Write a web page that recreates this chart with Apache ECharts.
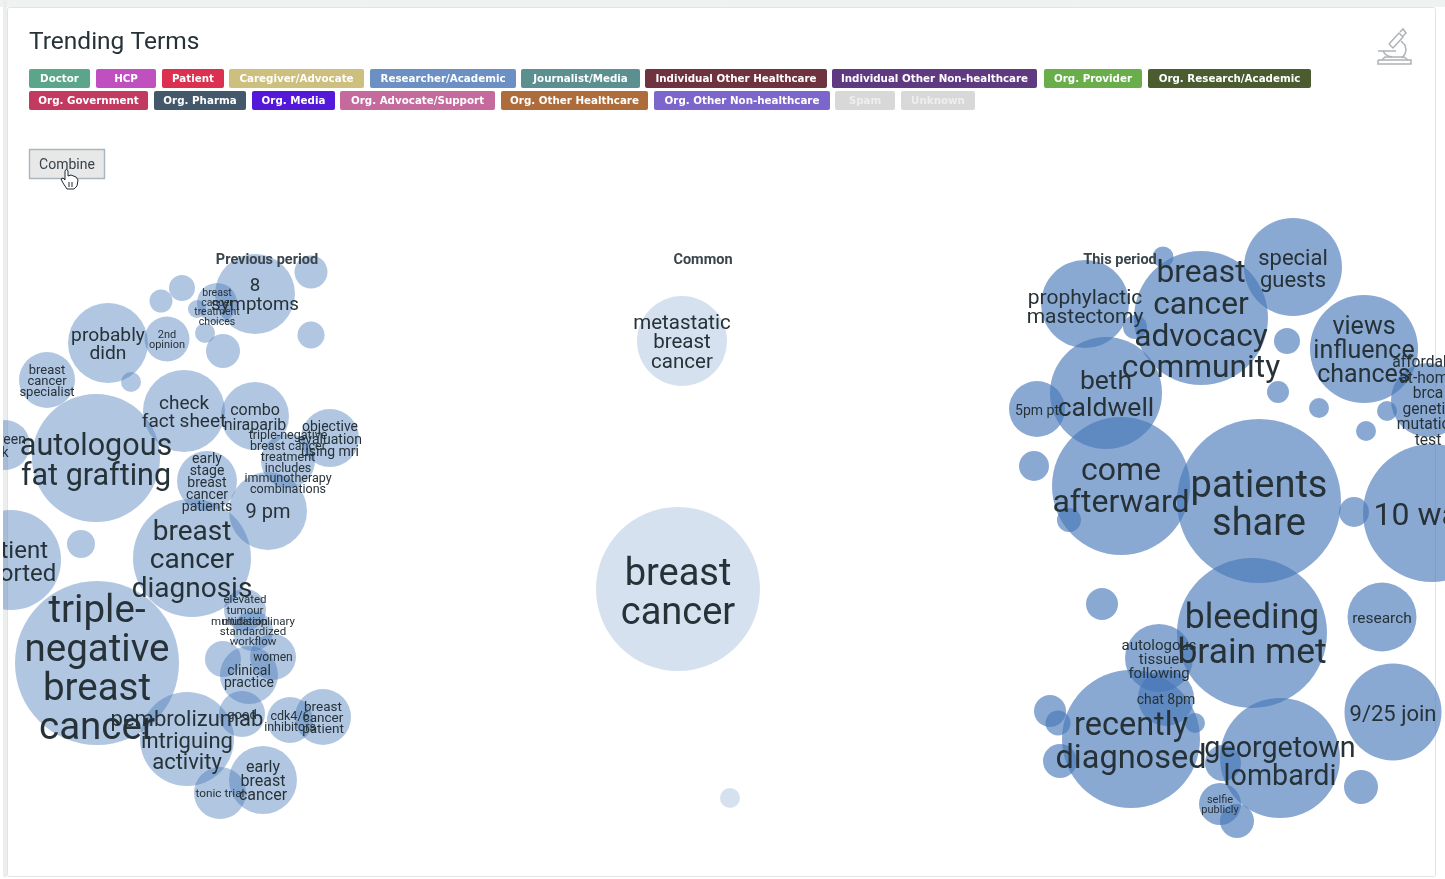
<!DOCTYPE html>
<html><head><meta charset="utf-8">
<style>html,body{margin:0;padding:0;background:#fff}#c{width:1445px;height:879px}</style>
<script src="https://cdn.jsdelivr.net/npm/echarts@6/dist/echarts.min.js"></script>
</head><body><div id="c"></div>
<script>
// ---------- data ----------
const audienceTags = ['Doctor','HCP','Patient','Caregiver/Advocate','Researcher/Academic','Journalist/Media','Individual Other Healthcare','Individual Other Non-healthcare','Org. Provider','Org. Research/Academic','Org. Government','Org. Pharma','Org. Media','Org. Advocate/Support','Org. Other Healthcare','Org. Other Non-healthcare','Spam','Unknown'];
const periodNames = ['Previous period','Common','This period'];

const prevTerms = ['8\nsymptoms','','','','breast\ncancer\ntreatment\nchoices','','','','','probably\ndidn','2nd\nopinion','','breast\ncancer\nspecialist','check\nfact sheet','combo\nniraparib','objective\nevaluation\nusing mri','triple-negative\nbreast cancer\ntreatment\nincludes\nimmunotherapy\ncombinations','autologous\nfat grafting','screen\nk','early\nstage\nbreast\ncancer\npatients','9 pm','breast\ncancer\ndiagnosis','patient\nreported','','','triple-\nnegative\nbreast\ncancer','elevated\ntumour\nmutation','multidisciplinary\nstandardized\nworkflow','women','','clinical\npractice','good','pembrolizumab\nintriguing\nactivity','cdk4/6\ninhibitors','breast\ncancer\npatient','early\nbreast\ncancer','tonic trial'];
const prevX = [255,311,182,161,217,197,205,223,311,108,167,131,47,184,255,330,288,96,5,207,268,192,11,81,0,97,245,253,273,223,249,242,187,290,323,263,220];
const prevY = [294,272,288,301,303,309,333,351,335,343,339,382,380,411,416,438,461,458,445,481,511,558,560,544,492,663,610,631,657,659,675,714,739,720,717,780,793];
const prevWeight = [40,16.5,13,11.5,20,9,10,17,13.5,40,22.5,10,28,41,34,29,27,64,25,30,39,59,50,14,15,82,21,20,23,18,29,23,47,23,28,34,26];

const commonTerms = ['metastatic\nbreast\ncancer','breast\ncancer',''];
const commonX = [682,678,730];
const commonY = [341,589,798];
const commonWeight = [45,82,10];

const thisTerms = ['special\nguests','prophylactic\nmastectomy','breast\ncancer\nadvocacy\ncommunity','','','beth\ncaldwell','5pm pt','views\ninfluence\nchances','','','','','','affordable\nat-home\nbrca\ngenetic\nmutation\ntest','','come\nafterward','','patients\nshare','','10 ways','','bleeding\nbrain met','research','','9/25 join','autologous\ntissue\nfollowing','chat 8pm','recently\ndiagnosed','','','','','georgetown\nlombardi','','','selfie\npublicly',''];
const thisX = [1293,1085,1201,1163,1135,1106,1037,1364,1287,1278,1319,1366,1387,1428,1034,1121,1069,1259,1354,1432,1102,1252,1382,1456,1393,1159,1166,1131,1050,1058,1060,1195,1280,1223,1361,1220,1237];
const thisY = [267,304,318,257,327,393,409,349,341,392,408,431,411,400,466,486,520,501,512,513,604,633,617,634,712,658,698,739,711,723,761,723,758,763,787,804,821];
const thisWeight = [49,44,67,10.5,12,56,28,54,13,11,10,10,10,37,15,69,12,82,15,69,16,75,34.5,32,48.5,34,28,69,16,12.5,17,10,60,18,17,21,17];

// ---------- styles ----------
const tagColors = ['#5ba58a','#c04fc0','#dc3050','#cdbf7e','#6c90c4','#5c9090','#6f3340','#5f3a80','#6aae4c','#4a5c30','#c23a60','#44586c','#5418d8','#c46a9c','#ad6c3a','#7c66cc','#d8d8d8','#d8d8d8'];
const tagBoxes = [[29,90,69],[96,156,69],[162,224,69],[229,364,69],[370,516,69],[521,640,69],[645,827,69],[832,1037,69],[1044,1142,69],[1148,1311,69],[29,148,91],[154,246,91],[252,335,91],[340,495,91],[501,648,91],[654,830,91],[835,895,91],[901,975,91]];
// [font size, line height, optional vertical nudge]
const labelFont = {
 '8\nsymptoms':[18.7,19],'breast\ncancer\ntreatment\nchoices':[10.5,9.7,5],'2nd\nopinion':[11,10.5],'probably\ndidn':[19.2,18],
 'breast\ncancer\nspecialist':[13,11],'check\nfact sheet':[19,18],'combo\nniraparib':[16,15],'objective\nevaluation\nusing mri':[14,12.5],
 'triple-negative\nbreast cancer\ntreatment\nincludes\nimmunotherapy\ncombinations':[12.5,10.8],'autologous\nfat grafting':[30.5,30],'screen\nk':[14,13],
 'early\nstage\nbreast\ncancer\npatients':[14,12],'9 pm':[20,21],'breast\ncancer\ndiagnosis':[28,28.5],'patient\nreported':[24,23],
 'triple-\nnegative\nbreast\ncancer':[38.5,39,8],'elevated\ntumour\nmutation':[11.5,11],'multidisciplinary\nstandardized\nworkflow':[11.5,9.8],
 'women':[12,12],'clinical\npractice':[14,12],'good':[13,13],'pembrolizumab\nintriguing\nactivity':[22,21.5],'cdk4/6\ninhibitors':[12.5,11],
 'breast\ncancer\npatient':[13.5,11],'early\nbreast\ncancer':[16,14],'tonic trial':[11.8,13],
 'metastatic\nbreast\ncancer':[20.5,19.5],'breast\ncancer':[38,39,6],
 'special\nguests':[22,22],'prophylactic\nmastectomy':[21,19,4],'breast\ncancer\nadvocacy\ncommunity':[31.7,31.7],'beth\ncaldwell':[26.5,27],'5pm pt':[14,15],
 'views\ninfluence\nchances':[25,24],'affordable\nat-home\nbrca\ngenetic\nmutation\ntest':[15.6,15.6],'come\nafterward':[32,32.5,2],'patients\nshare':[38,38],
 '10 ways':[32,34],'bleeding\nbrain met':[35.5,35],'research':[15.5,16],'9/25 join':[22,23],'autologous\ntissue\nfollowing':[15,14],'chat 8pm':[14,14],
 'recently\ndiagnosed':[32.5,33],'georgetown\nlombardi':[28.7,28,6],'selfie\npublicly':[11,9.5]
};
const inkColor = '#263238';

function buildPoints(terms, xs, ys, ws){
  return terms.map((t,i)=>{
    const f = labelFont[t] || [12,12];
    const dy = f[2] != null ? f[2] : Math.round(f[0]*0.12);
    return {name:t, value:[xs[i],ys[i],ws[i]], label:{fontSize:f[0], lineHeight:f[1], offset:[0,dy]}};
  });
}
function bubbleSeries(name, points, fill){
  return {
    type:'scatter', name, data:points, clip:true, silent:true,
    symbol:'circle', symbolSize:v=>v[2]*2,
    itemStyle:{color:fill, opacity:1, borderWidth:0},
    label:{show:true, position:'inside', formatter:'{b}', color:inkColor, fontFamily:'Roboto', fontWeight:400, align:'center', verticalAlign:'middle'},
    emphasis:{disabled:true}, z:5
  };
}

const graphics = [];
// page surface and card
graphics.push({type:'rect',z:-5,shape:{x:0,y:0,width:1445,height:7},style:{fill:'#f0f2f2'}});
graphics.push({type:'rect',z:-5,shape:{x:3,y:0,width:4,height:877},style:{fill:'#eceeee'}});
graphics.push({type:'rect',z:-4,shape:{x:7.5,y:7.5,width:1428,height:869,r:2},style:{fill:'#fff',stroke:'#e2e4e4',lineWidth:1}});
// hide label overflow left of the plot
graphics.push({type:'rect',z:100,shape:{x:0,y:200,width:3,height:679},style:{fill:'#fff'}});
// audience tags
audienceTags.forEach((t,i)=>{
  const b = tagBoxes[i];
  graphics.push({type:'rect',z:20,shape:{x:b[0],y:b[2],width:b[1]-b[0],height:19,r:2},style:{fill:tagColors[i]}});
  graphics.push({type:'text',z:21,x:(b[0]+b[1])/2,y:b[2]+10.5,style:{text:t,fill:i>=16?'#eeeeee':'#fff',font:'bold 10.3px "DejaVu Sans"',align:'center',verticalAlign:'middle'}});
});
// button
graphics.push({type:'rect',z:20,shape:{x:29.5,y:149.5,width:75,height:29},style:{fill:'#e8e8e8',stroke:'#a9b6bd',lineWidth:1.4}});
graphics.push({type:'text',z:21,x:67,y:165,style:{text:'Combine',fill:'#37424a',font:'14px Roboto',align:'center',verticalAlign:'middle'}});
// hand cursor
graphics.push({type:'polygon',z:22,shape:{points:[[65,171],[66.5,169],[68,171],[68,176],[71,175],[76,177],[78,180],[77,186],[74,189],[67,189],[63,183],[61,179],[63,178],[65,180]]},style:{fill:'#fff',stroke:'#1f2a30',lineWidth:1}});
[[69,182,69,187],[72,182,72,187]].forEach(s=>graphics.push({type:'line',z:23,shape:{x1:s[0],y1:s[1],x2:s[2],y2:s[3]},style:{stroke:'#1f2a30',lineWidth:1}}));
// microscope icon
const scopeStroke = {fill:'none',stroke:'#aeb3b7',lineWidth:1.5};
[[[1389,44],[1399,33],[1403,37],[1393,48],[1389,44]],
 [[1400,32],[1403,29],[1406,33],[1403,36]],
 [[1401,41],[1405,45],[1406,50],[1405,54],[1402,58]],
 [[1378,51],[1396,51]],
 [[1383,51],[1385,54],[1388,56],[1392,57]],
 [[1378,60],[1411,60],[1411,64],[1378,64],[1378,60]],
 [[1382,60],[1385,57],[1404,57],[1408,60]]
].forEach(p=>graphics.push({type:'polyline',z:20,shape:{points:p},style:scopeStroke}));
// period headings
const headingX = [267,703,1120];
periodNames.forEach((p,i)=>{
  graphics.push({type:'text',z:30,x:headingX[i],y:260.5,style:{text:p,fill:'#3a454c',font:'bold 14.5px Roboto',align:'center',verticalAlign:'middle'}});
});

const chart = echarts.init(document.getElementById('c'),null,{renderer:'canvas'});
chart.setOption({
  animation:false, backgroundColor:'#ffffff',
  title:{text:'Trending Terms',left:29,top:30,padding:0,textStyle:{fontFamily:'Roboto',fontSize:24.5,fontWeight:400,color:inkColor}},
  tooltip:{show:false},
  grid:{left:3,right:0,top:0,bottom:0},
  xAxis:{type:'value',min:3,max:1445,show:false},
  yAxis:{type:'value',min:0,max:879,inverse:true,show:false},
  graphic:{elements:graphics},
  series:[
    bubbleSeries(periodNames[0],buildPoints(prevTerms,prevX,prevY,prevWeight),'rgba(69,119,184,0.42)'),
    bubbleSeries(periodNames[1],buildPoints(commonTerms,commonX,commonY,commonWeight),'rgba(69,119,184,0.22)'),
    bubbleSeries(periodNames[2],buildPoints(thisTerms,thisX,thisY,thisWeight),'rgba(69,119,184,0.63)')
  ]
});
</script></body></html>
